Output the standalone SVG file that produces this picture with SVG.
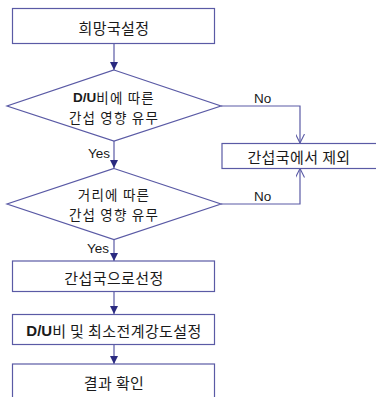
<svg xmlns="http://www.w3.org/2000/svg" width="376" height="397" viewBox="0 0 376 397">
<style>
.box{fill:#fff;stroke:#5a5aa5;stroke-width:1.2}
.ln{fill:none;stroke:#5a5aa5;stroke-width:1.2}
.t{font-family:"Noto Sans CJK KR","Liberation Sans",sans-serif;font-size:15px;letter-spacing:0.4px;fill:#1a1a1a;text-anchor:middle;dominant-baseline:central}
.d{font-size:13.5px;letter-spacing:1.2px}
.b{font-family:"Liberation Sans",sans-serif;font-weight:bold;letter-spacing:0}
.lb{font-family:"Liberation Sans","Noto Sans CJK KR",sans-serif;font-size:13.5px;fill:#1a1a1a;dominant-baseline:central}
</style>
<defs>
<marker id="fa" viewBox="0 0 10 10" refX="10" refY="5" markerWidth="8" markerHeight="8" markerUnits="userSpaceOnUse" orient="auto">
<path d="M0,0 L10,5 L0,10 z" fill="#2a2a80"/>
</marker>
<marker id="oa" viewBox="0 0 10 10" refX="10" refY="5" markerWidth="9" markerHeight="9" markerUnits="userSpaceOnUse" orient="auto">
<path d="M0,0 L10,5 L0,10" fill="none" stroke="#5a5aa5" stroke-width="1.2"/>
</marker>
</defs>
<g id="connectors">
<path class="ln" d="M114,43.5 V70" marker-end="url(#fa)"/>
<path class="ln" d="M221,106 H300 V143" marker-end="url(#oa)"/>
<path class="ln" d="M114,141 V168" marker-end="url(#fa)"/>
<path class="ln" d="M221,204 H300 V168.5" marker-end="url(#oa)"/>
<path class="ln" d="M114,239.5 V261" marker-end="url(#fa)"/>
<path class="ln" d="M114,291.5 V314" marker-end="url(#fa)"/>
<path class="ln" d="M114,344.5 V364" marker-end="url(#fa)"/>
<text class="lb" x="254" y="98">No</text>
<text class="lb" x="254" y="196">No</text>
<text class="lb" x="88" y="153">Yes</text>
<text class="lb" x="87" y="248">Yes</text>
</g>
<g id="n1">
<rect class="box" x="12.5" y="8.5" width="202" height="35"/>
<text class="t" x="114" y="27">희망국설정</text>
</g>
<g id="d1">
<polygon class="box" points="114,70 221,106 114,141 7,106"/>
<text class="t d" x="114" y="96.5"><tspan class="b">D/U</tspan>비에 따른</text>
<text class="t d" x="114" y="116.5">간섭 영향 유무</text>
</g>
<g id="n2">
<rect class="box" x="222" y="143.5" width="160" height="25"/>
<text class="t" x="299" y="156">간섭국에서 제외</text>
</g>
<g id="d2">
<polygon class="box" points="114,168.5 221,204 114,239.5 7,204"/>
<text class="t d" x="114" y="194">거리에 따른</text>
<text class="t d" x="114" y="214">간섭 영향 유무</text>
</g>
<g id="n3">
<rect class="box" x="12.5" y="261" width="202" height="30.5"/>
<text class="t" x="114" y="277.5">간섭국으로선정</text>
</g>
<g id="n4">
<rect class="box" x="12.5" y="314.5" width="202" height="30"/>
<text class="t" x="114" y="330"><tspan class="b">D/U</tspan>비 및 최소전계강도설정</text>
</g>
<g id="n5">
<rect class="box" x="12.5" y="364" width="202" height="40"/>
<text class="t" x="114" y="382">결과 확인</text>
</g>
</svg>
